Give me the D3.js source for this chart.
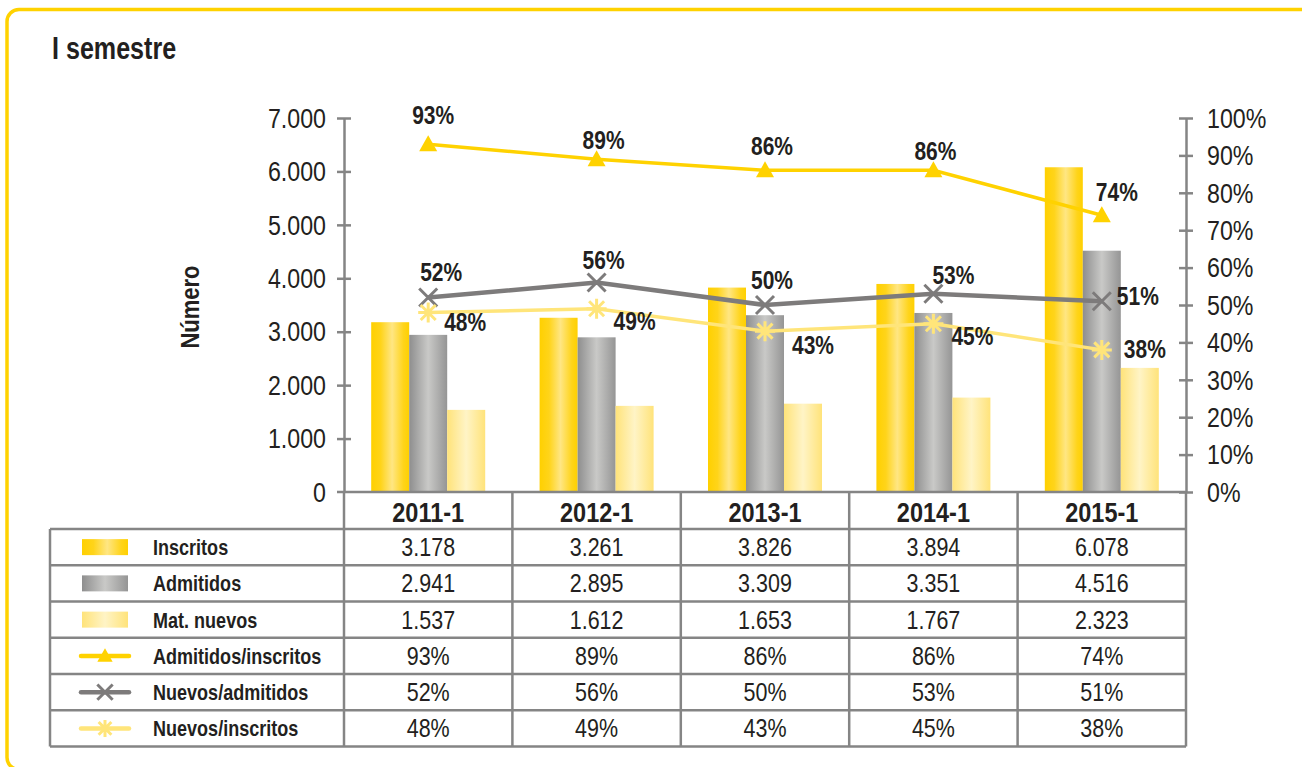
<!DOCTYPE html>
<html lang="es">
<head>
<meta charset="UTF-8">
<title>I semestre</title>
<script src="https://d3js.org/d3.v7.min.js"></script>
<style>
  body { margin: 0; padding: 0; background: #fff; }
  svg { display: block; font-family: "Liberation Sans", Arial, sans-serif; }
</style>
</head>
<body>
<svg id="chart" width="1302" height="767"></svg>
<script>
// ---- data ----
const periods = ["2011-1", "2012-1", "2013-1", "2014-1", "2015-1"];
const inscritos = [3178, 3261, 3826, 3894, 6078];
const admitidos = [2941, 2895, 3309, 3351, 4516];
const matNuevos = [1537, 1612, 1653, 1767, 2323];
const admIns = [93, 89, 86, 86, 74];
const nuevAdm = [52, 56, 50, 53, 51];
const nuevIns = [48, 49, 43, 45, 38];
const leftTicks = [0, 1000, 2000, 3000, 4000, 5000, 6000, 7000];
const rightTicks = [0, 10, 20, 30, 40, 50, 60, 70, 80, 90, 100];

// label nudges for the percentage labels (px from point)
const offAdmIns = [[5, -29], [7, -19], [7, -24], [2, -19], [15, -23]];
const offNuevAdm = [[13, -26], [7, -23], [7, -25], [20, -19], [36, -5]];
const offNuevIns = [[37, 10], [38, 12], [48, 14], [39, 12], [43, -1]];

const svg = d3.select("#chart");
const ink = "#231f20", gridCol = "#858585";
const fmtNum = d3.formatLocale({decimal: ",", thousands: ".", grouping: [3], currency: ["", ""]}).format(",d");

// condensed-looking text: regular font squeezed horizontally
function T(g, x, y, str, size, bold, anchor, sx) {
  return g.append("text")
    .attr("transform", `translate(${x},${y}) scale(${sx || 0.83},1)`)
    .attr("dy", "0.36em")
    .attr("text-anchor", anchor || "start")
    .attr("fill", ink)
    .attr("font-size", size)
    .attr("font-weight", bold ? "bold" : "normal")
    .text(str);
}

// gradients
const defs = svg.append("defs");
function grad(id, stops) {
  const g = defs.append("linearGradient").attr("id", id).attr("x1", "0%").attr("x2", "100%").attr("y1", "0%").attr("y2", "0%");
  stops.forEach(s => g.append("stop").attr("offset", s[0]).attr("stop-color", s[1]));
}
grad("gIns", [["0%", "#ffd000"], ["25%", "#ffd41a"], ["55%", "#ffe683"], ["85%", "#ffd41a"], ["100%", "#ffd000"]]);
grad("gAdm", [["0%", "#8e8e8e"], ["50%", "#c9c9c7"], ["100%", "#959595"]]);
grad("gMat", [["0%", "#ffe37a"], ["50%", "#fff4c6"], ["100%", "#ffe37a"]]);

// frame (bottom and right edges run off the picture)
svg.append("rect")
  .attr("x", 7).attr("y", 9.5).attr("width", 1400).attr("height", 760)
  .attr("rx", 12).attr("fill", "none").attr("stroke", "#ffd200").attr("stroke-width", 3.5);

T(svg, 52, 48, "I semestre", 31, true, "start", 0.81);

// scales
const x0 = 344, x1 = 1186, yTop = 118, yBot = 492;
const x = d3.scaleBand().domain(periods).range([x0, x1]);
const sub = d3.scaleBand().domain([0, 1, 2]).range([0, 114]);
const y = d3.scaleLinear().domain([0, 7000]).range([yBot, yTop]);
const yp = d3.scaleLinear().domain([0, 100]).range([yBot, yTop]);
const cx = p => x(p) + x.bandwidth() / 2;
const barOff = (x.bandwidth() - 114) / 2;

// bars
const bars = [[inscritos, "url(#gIns)"], [admitidos, "url(#gAdm)"], [matNuevos, "url(#gMat)"]];
bars.forEach((b, i) => {
  svg.append("g").selectAll("rect").data(b[0]).join("rect")
    .attr("x", (d, j) => x(periods[j]) + barOff + sub(i))
    .attr("width", sub.bandwidth())
    .attr("y", d => y(d))
    .attr("height", d => yBot - y(d))
    .attr("fill", b[1]);
});

// axes (labels drawn separately so they can be squeezed)
const axL = svg.append("g").attr("transform", `translate(${x0},0)`)
  .call(d3.axisLeft(y).tickValues(leftTicks).tickFormat("").tickSizeInner(7).tickSizeOuter(0));
const axR = svg.append("g").attr("transform", `translate(${x1},0)`)
  .call(d3.axisRight(yp).tickValues(rightTicks).tickFormat("").tickSizeInner(7).tickSizeOuter(0));
[axL, axR].forEach(a => {
  a.select(".domain").attr("stroke", gridCol).attr("stroke-width", 2.5);
  a.selectAll(".tick line").attr("stroke", gridCol).attr("stroke-width", 2.5);
});
axL.selectAll(".tick line").attr("x1", 7);
axR.selectAll(".tick line").attr("x1", -7);
axL.selectAll(".tick").filter(d => d === 0).select("line").remove();
leftTicks.forEach(t => T(svg, x0 - 18, y(t), fmtNum(t), 27, false, "end", 0.86));
rightTicks.forEach(t => T(svg, x1 + 21, yp(t), t + "%", 27, false, "start", 0.86));

svg.append("text").attr("transform", "translate(199,307) rotate(-90) scale(0.88,1)")
  .attr("text-anchor", "middle").attr("fill", ink).attr("font-size", 25).attr("font-weight", "bold").text("Número");

// lines
const series = [
  {name: "Admitidos/inscritos", vals: admIns, col: "#ffd200", w: 3.5, mark: "tri", off: offAdmIns},
  {name: "Nuevos/admitidos", vals: nuevAdm, col: "#7d7b7b", w: 4.5, mark: "x", off: offNuevAdm},
  {name: "Nuevos/inscritos", vals: nuevIns, col: "#ffe57a", w: 3.5, mark: "ast", off: offNuevIns}
];
const line = d3.line();

function drawMarker(g, kind, col, px, py, s) {
  if (kind === "tri") {
    g.append("path").attr("d", `M${px},${py - 9 * s}L${px + 9 * s},${py + 7 * s}L${px - 9 * s},${py + 7 * s}Z`).attr("fill", col);
  } else if (kind === "x") {
    const r = 9 * s;
    g.append("path").attr("d", `M${px - r},${py - r}L${px + r},${py + r}M${px - r},${py + r}L${px + r},${py - r}`)
      .attr("stroke", col).attr("stroke-width", 3).attr("fill", "none");
  } else {
    const r = 10 * s, d = r * 0.75;
    g.append("path").attr("d", `M${px},${py - r}L${px},${py + r}M${px - d},${py - d}L${px + d},${py + d}M${px - d},${py + d}L${px + d},${py - d}M${px - r},${py}L${px + r},${py}`)
      .attr("stroke", col).attr("stroke-width", 3).attr("fill", "none");
  }
}

series.forEach(s => {
  const pts = s.vals.map((v, i) => [cx(periods[i]), yp(v)]);
  const g = svg.append("g");
  g.append("path").attr("d", line(pts)).attr("fill", "none").attr("stroke", s.col).attr("stroke-width", s.w);
  pts.forEach(p => drawMarker(g, s.mark, s.col, p[0], p[1], 1));
  s.vals.forEach((v, i) => T(g, pts[i][0] + s.off[i][0], pts[i][1] + s.off[i][1], v + "%", 25, true, "middle", 0.84));
});

// data table
const tL = 50, hTop = yBot, bTop = 529, rowH = 36.25;
const rows = [
  {name: "Inscritos", vals: inscritos.map(fmtNum), sw: "url(#gIns)"},
  {name: "Admitidos", vals: admitidos.map(fmtNum), sw: "url(#gAdm)"},
  {name: "Mat. nuevos", vals: matNuevos.map(fmtNum), sw: "url(#gMat)"},
  {name: series[0].name, vals: admIns.map(d => d + "%"), s: series[0]},
  {name: series[1].name, vals: nuevAdm.map(d => d + "%"), s: series[1]},
  {name: series[2].name, vals: nuevIns.map(d => d + "%"), s: series[2]}
];
const tBot = bTop + rowH * rows.length;
const tg = svg.append("g");

periods.forEach(p => T(tg, cx(p), (hTop + bTop) / 2 + 1, p, 28, true, "middle", 0.84));

rows.forEach((r, i) => {
  const ry = bTop + i * rowH, mid = ry + rowH / 2;
  if (r.sw) {
    tg.append("rect").attr("x", 82).attr("y", mid - 8).attr("width", 46).attr("height", 16).attr("fill", r.sw);
  } else {
    tg.append("line").attr("x1", 81).attr("x2", 129).attr("y1", mid).attr("y2", mid)
      .attr("stroke", r.s.col).attr("stroke-width", 4.5).attr("stroke-linecap", "round");
    drawMarker(tg, r.s.mark, r.s.col, 105, mid, 0.85);
  }
  T(tg, 153, mid, r.name, 22, true, "start", 0.82);
  r.vals.forEach((v, j) => T(tg, cx(periods[j]), mid, v, 25, false, "middle", 0.86));
});

// grid lines
const gl = (a, b, c, d) => tg.append("line").attr("x1", a).attr("y1", b).attr("x2", c).attr("y2", d)
  .attr("stroke", gridCol).attr("stroke-width", 2.5);
gl(x0 - 7, yBot, x1, yBot);
d3.range(rows.length + 1).forEach(i => gl(tL, bTop + i * rowH, x1, bTop + i * rowH));
gl(tL, bTop, tL, tBot);
periods.forEach(p => gl(x(p), hTop, x(p), tBot));
gl(x1, hTop, x1, tBot);
</script>
</body>
</html>
